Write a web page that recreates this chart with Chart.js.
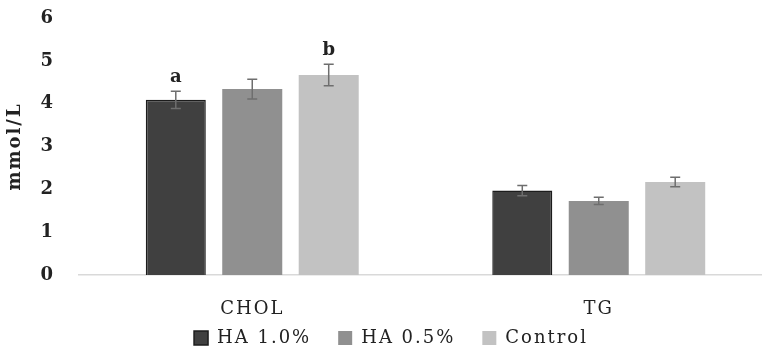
<!DOCTYPE html>
<html lang="en">
<head>
<meta charset="UTF-8">
<title>CHOL and TG</title>
<script src="https://cdn.jsdelivr.net/npm/chart.js"></script>
<style>
  html, body { margin: 0; padding: 0; background: #fff; overflow: hidden; }
</style>
</head>
<body>
<canvas id="lipidChart" width="772" height="352"></canvas>
<script>
// values (mmol/L)
const categories = ['CHOL', 'TG'];
const seriesNames = ['HA 1.0%', 'HA 0.5%', 'Control'];
const ha10 = [4.09, 1.97];
const ha05 = [4.34, 1.73];
const control = [4.67, 2.17];
const ha10Err = [0.20, 0.12];
const ha05Err = [0.23, 0.085];
const controlErr = [0.25, 0.11];
const ha10Letters = ['a', ''];
const ha05Letters = ['', ''];
const controlLetters = ['b', ''];
const yMin = 0, yMax = 6, yStep = 1;

const serif = 'DejaVu Serif';
const errors = [ha10Err, ha05Err, controlErr];
const letters = [ha10Letters, ha05Letters, controlLetters];

// the original text is set a bit wider than DejaVu, so space the letters out
const spacing = {
    id: 'spacing',
    beforeLayout(chart) { chart.ctx.letterSpacing = '2px'; },
    beforeDraw(chart) { chart.ctx.letterSpacing = '2px'; },
    afterLayout(chart) {
        // legend sits closer to the axis labels than its padding allows
        const lg = chart.legend;
        lg.top -= 20; lg.bottom -= 20;
        lg.left += 5; lg.right += 5;
    }
};

// error bars + significance letters
const errorBars = {
    id: 'errorBars',
    afterDatasetsDraw(chart) {
        const ctx = chart.ctx;
        const y = chart.scales.y;
        ctx.save();
        chart.data.datasets.forEach((ds, i) => {
            const meta = chart.getDatasetMeta(i);
            meta.data.forEach((bar, j) => {
                const v = ds.data[j];
                const e = errors[i][j];
                const top = y.getPixelForValue(v + e);
                const bot = y.getPixelForValue(v - e);
                ctx.strokeStyle = '#6e6e6e';
                ctx.lineWidth = 1.5;
                ctx.beginPath();
                ctx.moveTo(bar.x, top); ctx.lineTo(bar.x, bot);
                ctx.moveTo(bar.x - 5, top); ctx.lineTo(bar.x + 5, top);
                ctx.moveTo(bar.x - 5, bot); ctx.lineTo(bar.x + 5, bot);
                ctx.stroke();
                if (letters[i][j]) {
                    ctx.fillStyle = '#222';
                    ctx.font = 'bold 18px "' + serif + '"';
                    ctx.letterSpacing = '0px';
                    ctx.textAlign = 'center';
                    ctx.textBaseline = 'middle';
                    ctx.fillText(letters[i][j], bar.x, top - 14);
                }
            });
        });
        ctx.restore();
    }
};

const ctx = document.getElementById('lipidChart').getContext('2d');
new Chart(ctx, {
    type: 'bar',
    data: {
        labels: categories,
        datasets: [
            { label: seriesNames[0], data: ha10, backgroundColor: '#404040', borderColor: '#1c1c1c', borderWidth: 1.5 },
            { label: seriesNames[1], data: ha05, backgroundColor: '#909090', borderColor: '#909090', borderWidth: 0 },
            { label: seriesNames[2], data: control, backgroundColor: '#c2c2c2', borderColor: '#c2c2c2', borderWidth: 0 }
        ]
    },
    options: {
        responsive: false,
        animation: false,
        layout: { padding: { top: 18, left: 0, right: 0, bottom: -25 } },
        datasets: { bar: { categoryPercentage: 0.662, barPercentage: 0.785 } },
        plugins: {
            tooltip: { enabled: false },
            legend: {
                position: 'bottom',
                labels: {
                    color: '#222',
                    font: { family: serif, size: 18 },
                    boxWidth: 14,
                    boxHeight: 14,
                    padding: 27
                }
            }
        },
        scales: {
            x: {
                afterFit(scale) { scale.height = 47; },
                grid: { display: false, drawTicks: false },
                border: { color: '#d9d9d9', width: 1.5 },
                ticks: { color: '#222', font: { family: serif, size: 18 }, padding: 24 }
            },
            y: {
                min: yMin,
                max: yMax,
                afterFit(scale) {
                    scale.width = 79;
                    scale.paddingTop = 0;
                    scale.paddingBottom = 0;
                },
                grid: { display: false, drawTicks: false },
                border: { display: false },
                ticks: {
                    stepSize: yStep,
                    color: '#222',
                    font: { family: serif, size: 18, weight: 'bold' },
                    padding: 24
                },
                title: {
                    display: true,
                    text: 'mmol/L',
                    color: '#222',
                    font: { family: serif, size: 18, weight: 'bold' },
                    padding: { top: 5, bottom: 4 }
                }
            }
        }
    },
    plugins: [spacing, errorBars]
});
</script>
</body>
</html>
